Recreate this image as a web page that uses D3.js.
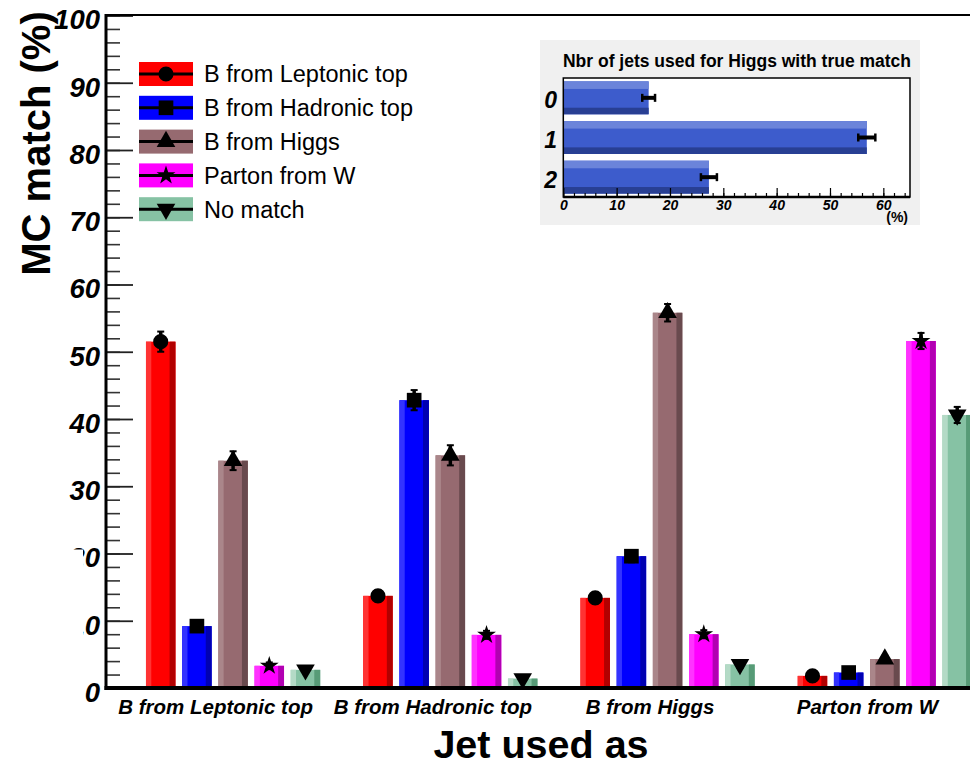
<!DOCTYPE html>
<html>
<head>
<meta charset="utf-8">
<script src="https://cdn.jsdelivr.net/npm/d3@7"></script>
<style>
  body { margin: 0; background: #fff; }
  text { font-family: "Liberation Sans", Arial, sans-serif; }
</style>
</head>
<body>
<script>
// categories of the main chart (jet used as ...)
let categories = ['B from Leptonic top', 'B from Hadronic top', 'B from Higgs', 'Parton from W'];
let seriesNames = ['B from Leptonic top', 'B from Hadronic top', 'B from Higgs', 'Parton from W', 'No match'];

// MC match (%) per series, one value per category
let leptonicTop = [51.5, 13.7, 13.4, 1.8];
let hadronicTop = [9.2, 42.8, 19.6, 2.3];
let fromHiggs = [33.8, 34.6, 55.8, 4.3];
let partonW = [3.3, 7.9, 8.0, 51.6];
let noMatch = [2.7, 1.4, 3.5, 40.6];

let leptonicTopErr = [1.5, 0.8, 0.8, 0.3];
let hadronicTopErr = [0.8, 1.5, 0.9, 0.4];
let fromHiggsErr = [1.4, 1.5, 1.3, 0.5];
let partonWErr = [0.5, 0.6, 0.6, 1.2];
let noMatchErr = [0.4, 0.3, 0.5, 1.2];

let yTicks = [0, 10, 20, 30, 40, 50, 60, 70, 80, 90, 100];

// inset: number of jets used for Higgs with true match
let nJets = ['0', '1', '2'];
let nJetsFrac = [16.0, 56.9, 27.3];
let nJetsErr = [1.2, 1.6, 1.5];
let insetTicks = [0, 10, 20, 30, 40, 50, 60];

let seriesValues = [leptonicTop, hadronicTop, fromHiggs, partonW, noMatch];
let seriesErrors = [leptonicTopErr, hadronicTopErr, fromHiggsErr, partonWErr, noMatchErr];

let mainColor = ['#ff0000', '#0000ff', '#966a70', '#ff00ff', '#86c2a4'];
let lightColor = ['#ff3333', '#3333ff', '#aa868a', '#ff33ff', '#b4dac6'];
let darkColor = ['#b20000', '#0000b2', '#694a4e', '#b200b2', '#579b77'];
let markerType = [d3.symbolCircle, d3.symbolSquare, d3.symbolTriangle, d3.symbolStar, d3.symbolTriangle];
let markerSize = [180, 215, 150, 110, 150];
let markerRot = [0, 0, 0, 0, 180];

let svg = d3.select('body').append('svg')
  .attr('width', 970)
  .attr('height', 763);

svg.append('rect').attr('width', 970).attr('height', 763).attr('fill', '#fff');

let x = d3.scaleBand().domain(categories).range([106, 975]).padding(0);
let y = d3.scaleLinear().domain([0, 100]).range([688, 15.5]);

let bw = x.bandwidth();
let inner = d3.scaleBand().domain(seriesNames)
  .range([bw * 0.184, bw * 0.986])
  .paddingInner(0.185).paddingOuter(0);

// y axis: minor and major ticks pointing inward
svg.append('g')
  .attr('transform', 'translate(106,0)')
  .call(d3.axisLeft(y).tickValues(d3.range(0, 101, 2)).tickSize(-14).tickFormat(''))
  .call(g => g.select('.domain').remove())
  .call(g => g.selectAll('line').attr('stroke', '#333').attr('stroke-width', 1.6));

svg.append('g')
  .attr('transform', 'translate(106,0)')
  .call(d3.axisLeft(y).tickValues(yTicks).tickSize(-27).tickPadding(6))
  .call(g => g.select('.domain').remove())
  .call(g => g.selectAll('line').attr('stroke', '#222').attr('stroke-width', 1.8))
  .call(g => g.selectAll('text')
    .attr('dy', '0.485em')
    .attr('fill', '#000')
    .style('font-size', '27.5px')
    .style('font-weight', 'bold')
    .style('font-style', 'italic'));

// white patch that hides the first digit of two labels, as in the original
svg.append('rect')
  .attr('x', 55).attr('y', 549.5)
  .attr('width', 28).attr('height', 93)
  .attr('fill', '#fff');

// bars
seriesNames.forEach((name, i) => {
  let g = svg.append('g');
  let data = categories.map((c, j) => ({ cat: c, v: seriesValues[i][j], e: seriesErrors[i][j] }));
  let bx = d => x(d.cat) + inner(name);
  let w = inner.bandwidth();

  g.selectAll('.main').data(data).enter().append('rect')
    .attr('x', bx).attr('y', d => y(d.v))
    .attr('width', w).attr('height', d => y(0) - y(d.v))
    .attr('fill', mainColor[i]);
  g.selectAll('.light').data(data).enter().append('rect')
    .attr('x', bx).attr('y', d => y(d.v))
    .attr('width', w * 0.18).attr('height', d => y(0) - y(d.v))
    .attr('fill', lightColor[i]);
  g.selectAll('.dark').data(data).enter().append('rect')
    .attr('x', d => bx(d) + w * 0.8).attr('y', d => y(d.v))
    .attr('width', w * 0.2).attr('height', d => y(0) - y(d.v))
    .attr('fill', darkColor[i]);

  // error bars
  g.selectAll('.err').data(data).enter().append('line')
    .attr('x1', d => bx(d) + w / 2).attr('x2', d => bx(d) + w / 2)
    .attr('y1', d => y(d.v - d.e)).attr('y2', d => y(d.v + d.e))
    .attr('stroke', '#000').attr('stroke-width', 3.5);
  [-1, 1].forEach(s => {
    g.selectAll('.cap' + s).data(data).enter().append('line')
      .attr('x1', d => bx(d) + w / 2 - 3.5).attr('x2', d => bx(d) + w / 2 + 3.5)
      .attr('y1', d => y(d.v + s * d.e)).attr('y2', d => y(d.v + s * d.e))
      .attr('stroke', '#000').attr('stroke-width', 2);
  });

  // markers
  g.selectAll('.mk').data(data).enter().append('path')
    .attr('d', d3.symbol().type(markerType[i]).size(markerSize[i]))
    .attr('transform', d => 'translate(' + (bx(d) + w / 2) + ',' + y(d.v) + ') rotate(' + markerRot[i] + ')')
    .attr('fill', '#000');
});

// frame
svg.append('line').attr('x1', 106).attr('x2', 970).attr('y1', 15).attr('y2', 15)
  .attr('stroke', '#000').attr('stroke-width', 2);
svg.append('line').attr('x1', 106).attr('x2', 106).attr('y1', 14).attr('y2', 690)
  .attr('stroke', '#000').attr('stroke-width', 3);
svg.append('line').attr('x1', 104.5).attr('x2', 970).attr('y1', 688).attr('y2', 688)
  .attr('stroke', '#000').attr('stroke-width', 4);

// category labels
svg.selectAll('.catlabel').data(categories).enter().append('text')
  .attr('x', d => x(d) + bw / 2 + 1)
  .attr('y', 714)
  .attr('text-anchor', 'middle')
  .style('font-size', '20.5px')
  .style('font-weight', 'bold')
  .style('font-style', 'italic')
  .text(d => d);

// axis titles
svg.append('text')
  .attr('x', 541).attr('y', 758)
  .attr('text-anchor', 'middle')
  .style('font-size', '39.5px').style('font-weight', 'bold')
  .text('Jet used as');

svg.append('text')
  .attr('transform', 'translate(50,143.5) rotate(-90)')
  .attr('text-anchor', 'middle')
  .style('font-size', '40px').style('font-weight', 'bold')
  .text('MC match (%)');

// legend
let legend = svg.append('g');
seriesNames.forEach((name, i) => {
  let cy = 74 + i * 33.8;
  legend.append('rect')
    .attr('x', 139).attr('y', cy - 12)
    .attr('width', 54).attr('height', 24)
    .attr('fill', mainColor[i]);
  legend.append('line')
    .attr('x1', 139).attr('x2', 193).attr('y1', cy).attr('y2', cy)
    .attr('stroke', '#000').attr('stroke-width', 3);
  legend.append('path')
    .attr('d', d3.symbol().type(markerType[i]).size(markerSize[i]))
    .attr('transform', 'translate(166,' + cy + ') rotate(' + markerRot[i] + ')')
    .attr('fill', '#000');
  legend.append('text')
    .attr('x', 204).attr('y', cy + 8.3)
    .style('font-size', '23.5px')
    .text(name);
});

// inset
let inset = svg.append('g');
inset.append('rect')
  .attr('x', 540).attr('y', 40)
  .attr('width', 380).attr('height', 185)
  .attr('fill', '#f0f0f0');

inset.append('text')
  .attr('x', 737).attr('y', 67)
  .attr('text-anchor', 'middle')
  .style('font-size', '17.5px').style('font-weight', 'bold')
  .text('Nbr of jets used for Higgs with true match');

let ix = d3.scaleLinear().domain([0, 65]).range([563.3, 910]);
let iy = d3.scaleBand().domain(nJets).range([78, 197]).paddingInner(0.17).paddingOuter(0.085);

inset.append('rect')
  .attr('x', ix(0)).attr('y', 78)
  .attr('width', ix(65) - ix(0)).attr('height', 119)
  .attr('fill', '#fff');

let insetData = nJets.map((n, i) => ({ n: n, v: nJetsFrac[i], e: nJetsErr[i] }));
let bh = iy.bandwidth();

inset.selectAll('.ibar').data(insetData).enter().append('rect')
  .attr('x', ix(0)).attr('y', d => iy(d.n))
  .attr('width', d => ix(d.v) - ix(0)).attr('height', bh)
  .attr('fill', '#3d5ccc');
inset.selectAll('.ibarl').data(insetData).enter().append('rect')
  .attr('x', ix(0)).attr('y', d => iy(d.n))
  .attr('width', d => ix(d.v) - ix(0)).attr('height', bh * 0.23)
  .attr('fill', '#6b84da');
inset.selectAll('.ibard').data(insetData).enter().append('rect')
  .attr('x', ix(0)).attr('y', d => iy(d.n) + bh * 0.8)
  .attr('width', d => ix(d.v) - ix(0)).attr('height', bh * 0.2)
  .attr('fill', '#283f93');

inset.selectAll('.ierr').data(insetData).enter().append('line')
  .attr('x1', d => ix(d.v - d.e)).attr('x2', d => ix(d.v + d.e))
  .attr('y1', d => iy(d.n) + bh / 2).attr('y2', d => iy(d.n) + bh / 2)
  .attr('stroke', '#000').attr('stroke-width', 4);
[-1, 1].forEach(s => {
  inset.selectAll('.icap' + s).data(insetData).enter().append('line')
    .attr('x1', d => ix(d.v + s * d.e)).attr('x2', d => ix(d.v + s * d.e))
    .attr('y1', d => iy(d.n) + bh / 2 - 4).attr('y2', d => iy(d.n) + bh / 2 + 4)
    .attr('stroke', '#000').attr('stroke-width', 2.5);
});

inset.append('rect')
  .attr('x', ix(0)).attr('y', 78)
  .attr('width', ix(65) - ix(0)).attr('height', 119)
  .attr('fill', 'none').attr('stroke', '#000').attr('stroke-width', 1.5);

inset.append('g')
  .attr('transform', 'translate(0,197)')
  .call(d3.axisBottom(ix).tickValues(d3.range(0, 65, 2)).tickSize(-4).tickFormat(''))
  .call(g => g.select('.domain').remove())
  .call(g => g.selectAll('line').attr('stroke', '#000').attr('stroke-width', 1.2));

inset.append('g')
  .attr('transform', 'translate(0,197)')
  .call(d3.axisBottom(ix).tickValues(insetTicks).tickSize(-9).tickPadding(3))
  .call(g => g.select('.domain').remove())
  .call(g => g.selectAll('line').attr('stroke', '#000').attr('stroke-width', 1.2))
  .call(g => g.selectAll('text')
    .attr('fill', '#000')
    .style('font-size', '14px')
    .style('font-weight', 'bold')
    .style('font-style', 'italic'));

inset.append('line')
  .attr('x1', ix(0)).attr('x2', ix(65)).attr('y1', 197).attr('y2', 197)
  .attr('stroke', '#000').attr('stroke-width', 2.5);

inset.selectAll('.ilab').data(nJets).enter().append('text')
  .attr('x', 557).attr('y', d => iy(d) + bh / 2 + 10.5)
  .attr('text-anchor', 'end')
  .style('font-size', '23px')
  .style('font-weight', 'bold')
  .style('font-style', 'italic')
  .text(d => d);

inset.append('text')
  .attr('x', 908).attr('y', 222)
  .attr('text-anchor', 'end')
  .style('font-size', '14px').style('font-weight', 'bold')
  .text('(%)');
</script>
</body>
</html>
